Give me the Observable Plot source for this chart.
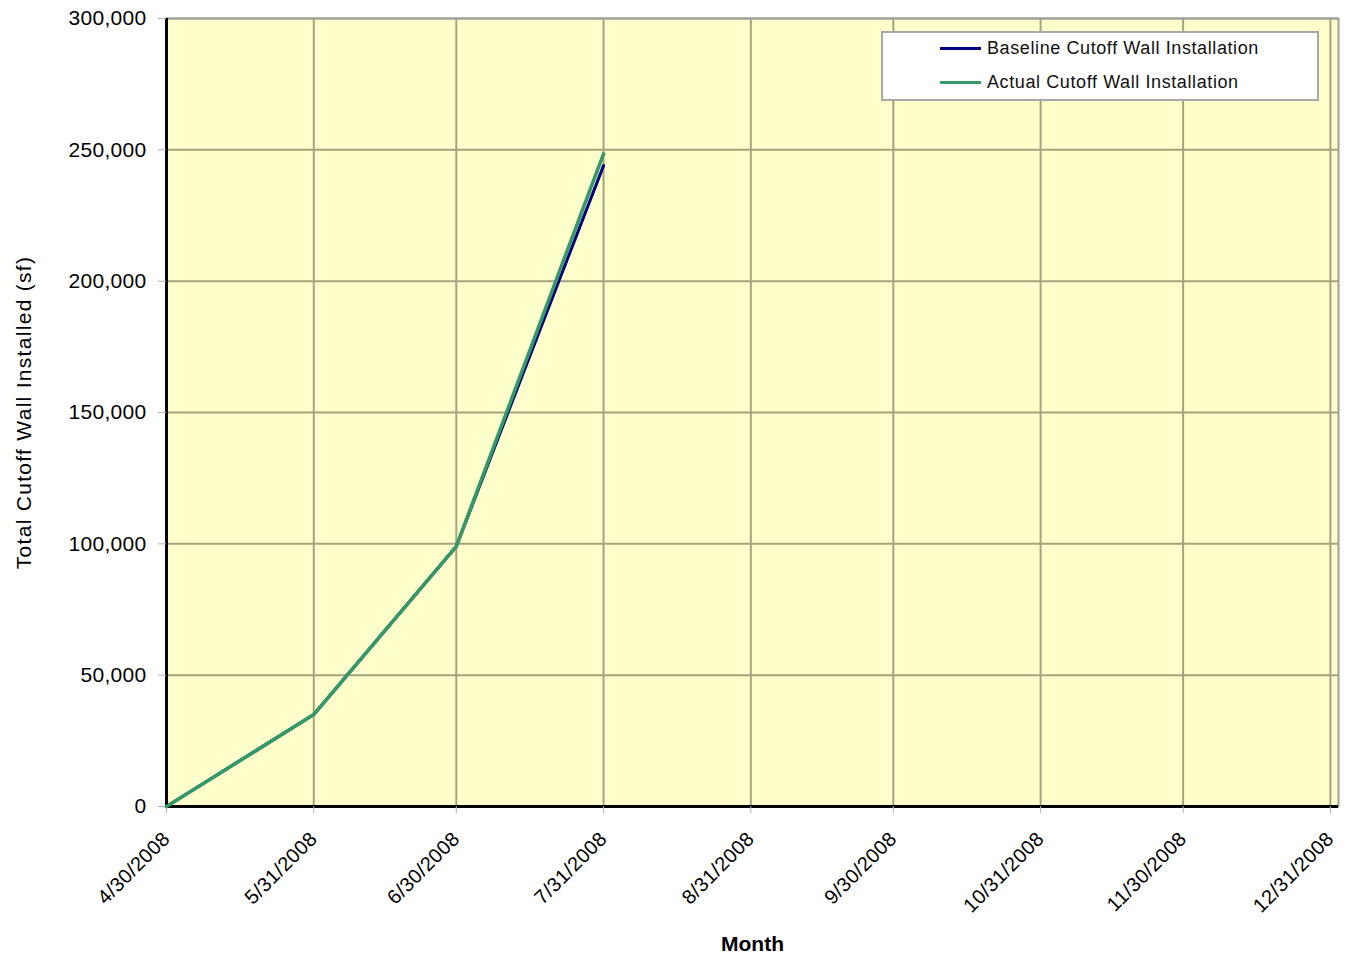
<!DOCTYPE html>
<html>
<head>
<meta charset="utf-8">
<script src="https://cdn.jsdelivr.net/npm/d3@7"></script>
<script src="https://cdn.jsdelivr.net/npm/@observablehq/plot@0.6"></script>
<style>
html, body { margin: 0; padding: 0; background: #fff; }
#wrap { position: relative; width: 1348px; height: 959px; font-family: "Liberation Sans", Arial, sans-serif; }
#legend { position: absolute; left: 881px; top: 31px; width: 434px; height: 66px; border: 2px solid #a8a8a8; background: #fff; }
.item { position: absolute; left: 57px; height: 20px; display: flex; align-items: center; font-size: 18px; letter-spacing: 0.6px; color: #111; white-space: nowrap; }
.swatch { width: 41px; height: 3px; margin-right: 6px; }
g[aria-label="x-axis tick label"] text { letter-spacing: 0.4px; }
g[aria-label="y-axis tick label"] text { letter-spacing: 0.3px; }
.ylab { letter-spacing: 1.3px; }
</style>
</head>
<body>
<div id="wrap"></div>
<script>
// ---- data ----
const xTickLabels = ["4/30/2008", "5/31/2008", "6/30/2008", "7/31/2008", "8/31/2008", "9/30/2008", "10/31/2008", "11/30/2008", "12/31/2008"];
const yTicks = [0, 50000, 100000, 150000, 200000, 250000, 300000];
const monthDates = ["4/30/2008", "5/31/2008", "6/30/2008", "7/31/2008"];
const baselineValues = [0, 35000, 99000, 244000];
const actualValues = [0, 35000, 99000, 248500];
const seriesNames = ["Baseline Cutoff Wall Installation", "Actual Cutoff Wall Installation"];
const seriesColors = ["#000080", "#339966"];
const xTitle = "Month";
const yTitle = "Total Cutoff Wall Installed (sf)";

// ---- build ----
const parse = d3.utcParse("%m/%d/%Y");
const xTickDates = xTickLabels.map(parse);
const labelMap = new Map(xTickDates.map((d, i) => [+d, xTickLabels[i]]));
const xStart = parse("4/30/2008");
const xEnd = new Date(Date.UTC(2009, 0, 1, 17));

const baselineRows = monthDates.map((m, i) => ({date: parse(m), value: baselineValues[i]}));
const actualRows = monthDates.map((m, i) => ({date: parse(m), value: actualValues[i]}));

const chart = Plot.plot({
  width: 1348,
  height: 959,
  marginLeft: 166,
  marginRight: 10,
  marginTop: 18,
  marginBottom: 153,
  style: {fontFamily: '"Liberation Sans", Arial, sans-serif', background: "#fff", color: "#000"},
  x: {type: "utc", domain: [xStart, xEnd]},
  y: {domain: [0, 300000]},
  marks: [
    Plot.frame({fill: "#FFFFCC"}),
    Plot.ruleX(xTickDates, {stroke: "#a5a37d", strokeWidth: 2}),
    Plot.ruleY(yTicks, {stroke: "#a5a37d", strokeWidth: 2}),
    Plot.frame({stroke: "#a0a0a0", strokeWidth: 2}),
    Plot.ruleX([xStart], {stroke: "#000", strokeWidth: 3}),
    Plot.ruleY([0], {stroke: "#000", strokeWidth: 3}),
    Plot.axisY({ticks: yTicks, tickFormat: d3.format(","), tickSize: 8, tickPadding: 12, fontSize: 21, stroke: "#b0b0b0", label: null}),
    Plot.axisX({ticks: xTickDates, tickFormat: d => labelMap.get(+d), tickRotate: -45, tickSize: 7, tickPadding: 22, fontSize: 20, stroke: "#b0b0b0", label: null}),
    Plot.line(baselineRows, {x: "date", y: "value", stroke: seriesColors[0], strokeWidth: 3}),
    Plot.line(actualRows, {x: "date", y: "value", stroke: seriesColors[1], strokeWidth: 3.5}),
    Plot.text([yTitle], {frameAnchor: "left", textAnchor: "middle", rotate: -90, dx: -142, fontSize: 21, className: "ylab"}),
    Plot.text([xTitle], {frameAnchor: "bottom", dy: 144, fontSize: 21, fontWeight: "bold"})
  ]
});

const wrap = document.getElementById("wrap");
wrap.appendChild(chart);

const legend = document.createElement("div");
legend.id = "legend";
const tops = [5, 39];
seriesNames.forEach((name, i) => {
  const item = document.createElement("div");
  item.className = "item";
  item.style.top = tops[i] + "px";
  const sw = document.createElement("div");
  sw.className = "swatch";
  sw.style.background = seriesColors[i];
  const tx = document.createElement("span");
  tx.textContent = name;
  item.appendChild(sw);
  item.appendChild(tx);
  legend.appendChild(item);
});
wrap.appendChild(legend);
</script>
</body>
</html>
